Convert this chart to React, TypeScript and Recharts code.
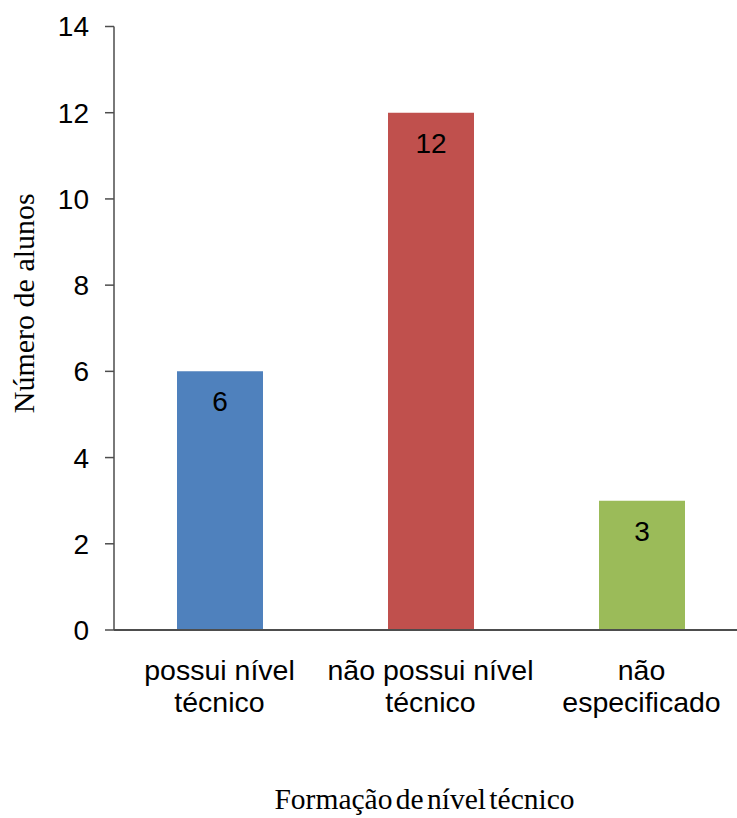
import { BarChart, Bar, XAxis, YAxis, Cell, LabelList, Label } from 'recharts'

const categories = ['possui nível técnico', 'não possui nível técnico', 'não especificado']
const tickLines = [
  ['possui nível', 'técnico'],
  ['não possui nível', 'técnico'],
  ['não', 'especificado'],
]
const values = [6, 12, 3]
const barColors = ['#4F81BD', '#C0504D', '#9BBB59']
const yTicks = [0, 2, 4, 6, 8, 10, 12, 14]

const data = categories.map((name, i) => ({ name, value: values[i] }))

const SANS = '"Liberation Sans", Arial, sans-serif'
const SERIF = '"Liberation Serif", "Times New Roman", serif'
const AXIS = '#4d4d4d'

// two-line category labels under the bars
function CategoryTick(props: any) {
  const { x, y, payload } = props
  const lines = tickLines[payload.index] ?? [String(payload.value)]
  return (
    <text x={x} y={y} textAnchor="middle" fontFamily={SANS} fontSize={28.5} fill="#000">
      {lines.map((line, i) => (
        <tspan key={i} x={x} dy={i === 0 ? 50 : 31.5}>
          {line}
        </tspan>
      ))}
    </text>
  )
}

export default function App() {
  return (
    <div
      style={{
        position: 'absolute',
        left: 0,
        top: 0,
        width: 737,
        height: 818,
        overflow: 'hidden',
        background: '#fff',
      }}
    >
      <BarChart
        width={748}
        height={818}
        data={data}
        margin={{ top: 26.5, right: 1, left: 0, bottom: 0 }}
      >
        <XAxis
          dataKey="name"
          interval={0}
          height={188}
          tickLine={false}
          tickSize={0}
          tickMargin={0}
          axisLine={{ stroke: AXIS, strokeWidth: 2 }}
          tick={<CategoryTick />}
        >
          <Label
            value="Formação de nível técnico"
            position="insideBottom"
            offset={9}
            dx={-6}
            fontFamily={SERIF}
            fontSize={29.5}
            fill="#000"
            wordSpacing={-4}
          />
        </XAxis>
        <YAxis
          width={114}
          domain={[0, 14]}
          ticks={yTicks}
          interval={0}
          tickSize={9}
          tickMargin={16}
          axisLine={{ stroke: AXIS, strokeWidth: 1.5 }}
          tickLine={{ stroke: AXIS, strokeWidth: 1.5 }}
          tick={{ fill: '#000', fontSize: 28, fontFamily: SANS }}
        >
          <Label
            value="Número de alunos"
            angle={-90}
            position="center"
            dx={-34}
            dy={-25}
            fontFamily={SERIF}
            fontSize={30}
            fill="#000"
          />
        </YAxis>
        <Bar dataKey="value" barSize={86} isAnimationActive={false}>
          {data.map((entry, i) => (
            <Cell key={entry.name} fill={barColors[i]} />
          ))}
          <LabelList
            dataKey="value"
            position="insideTop"
            offset={20}
            fill="#000"
            fontSize={28}
            fontFamily={SANS}
          />
        </Bar>
      </BarChart>
    </div>
  )
}
